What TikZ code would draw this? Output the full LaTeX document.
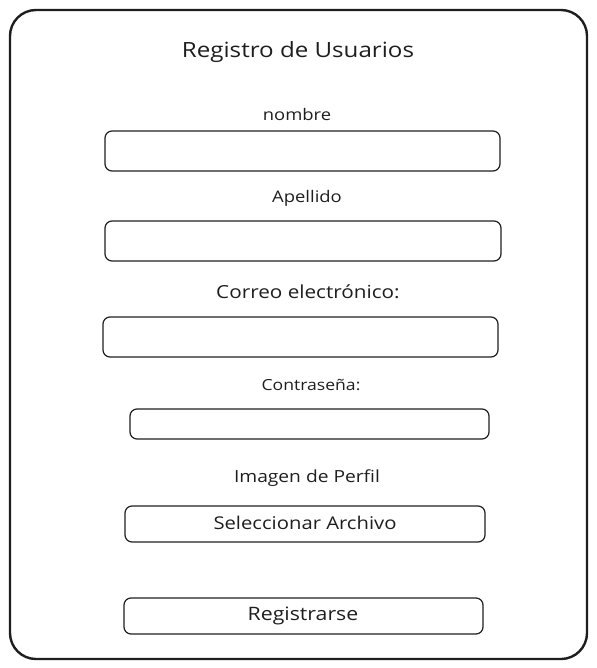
\documentclass[tikz,border=0pt]{standalone}
\usepackage{fontspec}
\setmainfont[FakeStretch=1.15]{Open Sans}
\definecolor{ink}{HTML}{1E1E1E}
\begin{document}
\begin{tikzpicture}[x=1pt,y=-1pt,
  frame/.style={draw=ink,line width=2.4pt,rounded corners=26pt},
  field/.style={draw=ink,line width=1.2pt,rounded corners=7pt},
  lbl/.style={text=ink,inner sep=0pt,font=\fontsize{16}{19}\selectfont},
  ttl/.style={text=ink,inner sep=0pt,font=\fontsize{21}{25}\selectfont}]
\useasboundingbox (0,0) rectangle (596,668);
\draw[frame] (10,10) rectangle (587,659);
\node[ttl] (title) at (298,52) {Registro de Usuarios};
\node[lbl] (lnombre) at (297,115) {nombre};
\draw[field] (105,131) rectangle (500,171);
\node[lbl] (lapellido) at (307,198) {Apellido};
\draw[field] (105,221) rectangle (501,261);
\node[lbl,font=\fontsize{18}{21}\selectfont] (lcorreo) at (308,292) {Correo electrónico:};
\draw[field] (103,317) rectangle (498,357);
\node[lbl,font=\fontsize{15.3}{18}\selectfont] (lpass) at (311,385) {Contraseña:};
\draw[field] (130,409) rectangle (489,439);
\node[lbl,font=\fontsize{16.7}{20}\selectfont] (limagen) at (307,478) {Imagen de Perfil};
\draw[field] (125,506) rectangle (485,542);
\node[lbl,font=\fontsize{17.6}{21}\selectfont] (lsel) at (305,523) {Seleccionar Archivo};
\draw[field] (124,598) rectangle (483,634);
\node[lbl,font=\fontsize{18.5}{22}\selectfont] (lreg) at (303,616) {Registrarse};
\end{tikzpicture}
\end{document}
